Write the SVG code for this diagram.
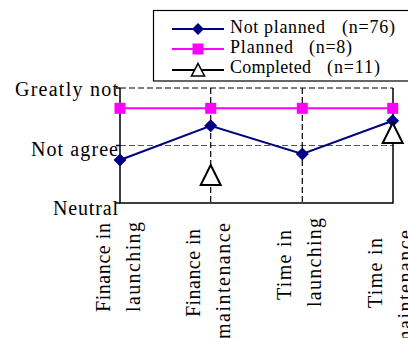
<svg xmlns="http://www.w3.org/2000/svg" width="408" height="338" viewBox="0 0 408 338">
<defs>
<style>
text{font-family:"Liberation Serif","Times New Roman",serif;fill:#000}
.ax{font-size:20px}
.lg{font-size:18px}
.axis{stroke:#000;stroke-width:1.5;fill:none}
.dash{stroke:#000;stroke-width:1.2;stroke-dasharray:6,3;fill:none}
.gdash{stroke:#555;stroke-width:1.2;stroke-dasharray:6,3;fill:none}
.np{stroke:#000080;stroke-width:2;fill:none}
.pl{stroke:#FF00FF;stroke-width:2;fill:none}
.cm{stroke:#000;stroke-width:2;fill:none}
.dia{fill:#000080}
.sq{fill:#FF00FF}
.tri{fill:#fff;stroke:#000;stroke-width:2}
</style>
</defs>
<rect width="408" height="338" fill="#fff"/>
<g id="grid">
<line class="dash" x1="120" y1="88" x2="393" y2="88"/>
<line class="gdash" x1="120" y1="145.5" x2="393" y2="145.5"/>
<line class="dash" x1="210.7" y1="88" x2="210.7" y2="203"/>
<line class="dash" x1="302.3" y1="88" x2="302.3" y2="203"/>
</g>
<g id="axes">
<path class="axis" d="M120,88 V203 H393 V88"/>
<path class="axis" d="M116,88 H120 M116,145.5 H120 M116,203 H120"/>
</g>
<g id="y-labels">
<text class="ax" x="118" y="96" text-anchor="end" textLength="103" lengthAdjust="spacing">Greatly not</text>
<text class="ax" x="118" y="156" text-anchor="end" textLength="87" lengthAdjust="spacing">Not agree</text>
<text class="ax" x="118" y="215" text-anchor="end" textLength="65" lengthAdjust="spacing">Neutral</text>
</g>
<g id="x-labels">
<text class="ax" transform="translate(110,312) rotate(-90)" textLength="89" lengthAdjust="spacing">Finance in</text>
<text class="ax" transform="translate(140,312) rotate(-90)" textLength="90" lengthAdjust="spacing">launching</text>
<text class="ax" transform="translate(200,317) rotate(-90)" textLength="88" lengthAdjust="spacing">Finance in</text>
<text class="ax" transform="translate(230,223) rotate(-90)" text-anchor="end" textLength="116" lengthAdjust="spacing">maintenance</text>
<text class="ax" transform="translate(291,300) rotate(-90)" textLength="70" lengthAdjust="spacing">Time in</text>
<text class="ax" transform="translate(321,307) rotate(-90)" textLength="89" lengthAdjust="spacing">launching</text>
<text class="ax" transform="translate(382,308) rotate(-90)" textLength="70" lengthAdjust="spacing">Time in</text>
<text class="ax" transform="translate(412,230) rotate(-90)" text-anchor="end" textLength="116" lengthAdjust="spacing">maintenance</text>
</g>
<g id="connectors">
<polyline class="pl" points="120,108.3 210.7,108.3 302.3,108.3 392.7,108.3"/>
<polyline class="np" points="120,160 210.7,125.7 302.3,154 392.7,120.7"/>
</g>
<g id="series-planned">
<rect class="sq" x="114.5" y="102.8" width="11" height="11"/>
<rect class="sq" x="205.2" y="102.8" width="11" height="11"/>
<rect class="sq" x="296.8" y="102.8" width="11" height="11"/>
<rect class="sq" x="387.2" y="102.8" width="11" height="11"/>
</g>
<g id="series-not-planned">
<path class="dia" d="M120,153.5 l6.5,6.5 l-6.5,6.5 l-6.5,-6.5z"/>
<path class="dia" d="M210.7,119.2 l6.5,6.5 l-6.5,6.5 l-6.5,-6.5z"/>
<path class="dia" d="M302.3,147.5 l6.5,6.5 l-6.5,6.5 l-6.5,-6.5z"/>
<path class="dia" d="M392.7,114.2 l6.5,6.5 l-6.5,6.5 l-6.5,-6.5z"/>
</g>
<g id="series-completed">
<path class="tri" d="M210.7,165 L220.7,185 L200.7,185 Z"/>
<path class="tri" d="M392.7,123 L402.7,143 L382.7,143 Z"/>
</g>
<g id="legend">
<rect x="153.5" y="10.5" width="262" height="70.5" fill="#fff" stroke="#000" stroke-width="1.2"/>
<line class="np" x1="172" y1="29" x2="224" y2="29"/>
<path class="dia" d="M198,23 l6,6 l-6,6 l-6,-6z"/>
<line class="pl" x1="172" y1="49" x2="224" y2="49"/>
<rect class="sq" x="192.5" y="43.5" width="11" height="11"/>
<line class="cm" x1="172" y1="70" x2="224" y2="70"/>
<path class="tri" style="stroke-width:1.6" d="M198,63.5 L204.5,76 L191.5,76 Z"/>
<text class="lg" x="230" y="33" textLength="95" lengthAdjust="spacing">Not planned</text>
<text class="lg" x="342" y="33" textLength="53" lengthAdjust="spacing">(n=76)</text>
<text class="lg" x="230" y="53" textLength="63" lengthAdjust="spacing">Planned</text>
<text class="lg" x="309" y="53" textLength="43" lengthAdjust="spacing">(n=8)</text>
<text class="lg" x="230" y="73" textLength="81" lengthAdjust="spacing">Completed</text>
<text class="lg" x="327" y="73" textLength="53" lengthAdjust="spacing">(n=11)</text>
</g>
</svg>
